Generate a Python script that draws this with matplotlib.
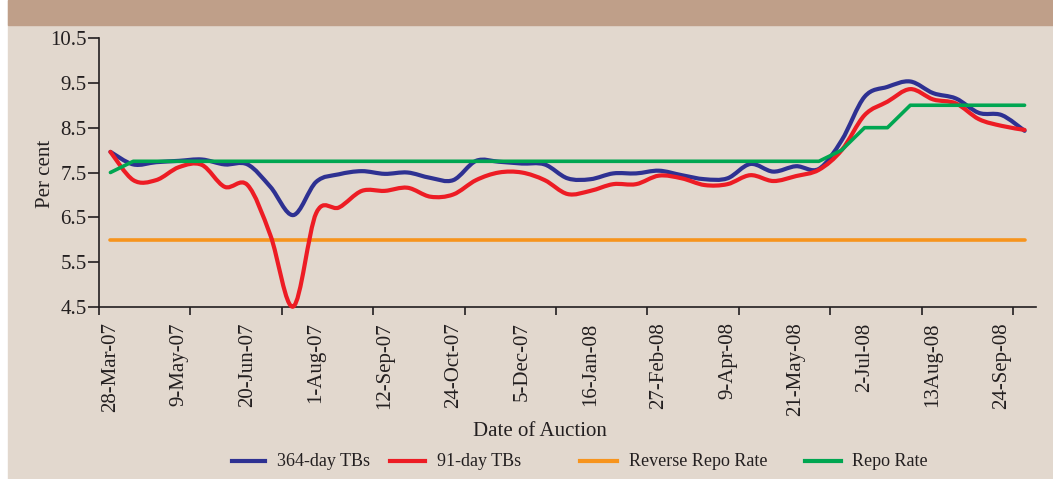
import numpy as np
import matplotlib.pyplot as plt
from matplotlib.path import Path
from matplotlib.patches import PathPatch, Rectangle
from matplotlib.lines import Line2D

plt.rcParams['font.family'] = ['Liberation Serif', 'DejaVu Serif']

# fortnightly auctions, 28-Mar-07 .. 8-Oct-08
auction_labels = ['28-Mar-07', '9-May-07', '20-Jun-07', '1-Aug-07', '12-Sep-07',
                  '24-Oct-07', '5-Dec-07', '16-Jan-08', '27-Feb-08', '9-Apr-08',
                  '21-May-08', '2-Jul-08', '13Aug-08', '24-Sep-08']

tb364 = [7.96, 7.68, 7.73, 7.76, 7.79, 7.68, 7.68, 7.18, 6.55, 7.29,
         7.46, 7.53, 7.47, 7.50, 7.38, 7.33, 7.76, 7.74, 7.70, 7.68,
         7.37, 7.35, 7.48, 7.48, 7.54, 7.44, 7.35, 7.37, 7.69, 7.52,
         7.64, 7.58, 8.22, 9.19, 9.41, 9.53, 9.27, 9.15, 8.83, 8.78, 8.43]

tb91 = [7.96, 7.33, 7.33, 7.62, 7.67, 7.18, 7.22, 6.10, 4.51, 6.59,
        6.72, 7.09, 7.09, 7.16, 6.96, 7.01, 7.33, 7.50, 7.50, 7.33,
        7.02, 7.09, 7.24, 7.24, 7.43, 7.37, 7.22, 7.24, 7.44, 7.31,
        7.42, 7.56, 8.00, 8.78, 9.08, 9.36, 9.13, 9.04, 8.69, 8.54, 8.45]

repo = [7.50, 7.75, 7.75, 7.75, 7.75, 7.75, 7.75, 7.75, 7.75, 7.75,
        7.75, 7.75, 7.75, 7.75, 7.75, 7.75, 7.75, 7.75, 7.75, 7.75,
        7.75, 7.75, 7.75, 7.75, 7.75, 7.75, 7.75, 7.75, 7.75, 7.75,
        7.75, 7.75, 8.00, 8.50, 8.50, 9.00, 9.00, 9.00, 9.00, 9.00, 9.00]

rev_repo = [6.0, 6.0, 6.0, 6.0, 6.0, 6.0, 6.0, 6.0, 6.0, 6.0,
            6.0, 6.0, 6.0, 6.0, 6.0, 6.0, 6.0, 6.0, 6.0, 6.0,
            6.0, 6.0, 6.0, 6.0, 6.0, 6.0, 6.0, 6.0, 6.0, 6.0,
            6.0, 6.0, 6.0, 6.0, 6.0, 6.0, 6.0, 6.0, 6.0, 6.0, 6.0]

names = ['364-day TBs', '91-day TBs', 'Reverse Repo Rate', 'Repo Rate']

c364 = '#2e3192'
c91 = '#ed1c24'
crev = '#f7941d'
crepo = '#00a651'
txt = '#231f20'


def smooth_path(xs, ys):
    # bezier through the points, like a spreadsheet "smoothed line"
    pts = np.column_stack([xs, ys]).astype(float)
    n = len(pts)
    verts = [pts[0]]
    codes = [Path.MOVETO]
    for i in range(n - 1):
        p0 = pts[max(i - 1, 0)]
        p1 = pts[i]
        p2 = pts[i + 1]
        p3 = pts[min(i + 2, n - 1)]
        verts += [p1 + (p2 - p0) / 6, p2 - (p3 - p1) / 6, p2]
        codes += [Path.CURVE4] * 3
    return Path(verts, codes)


x = np.arange(len(tb364))

W, H = 1053, 479
fig = plt.figure(figsize=(W / 100, H / 100), dpi=100, facecolor='white')
fig.patches.append(Rectangle((8 / W, 0), 1, 1, transform=fig.transFigure,
                             color='#e2d8ce', zorder=-2))
fig.patches.append(Rectangle((8 / W, 1 - 25 / H), 1, 25 / H, transform=fig.transFigure,
                             color='#bf9f89', zorder=-1))

ax = fig.add_axes([99 / W, 1 - 307 / H, (1036 - 99) / W, (307 - 38) / H])
ax.set_facecolor('none')

ax.plot(x, rev_repo, color=crev, lw=2.6, zorder=2, solid_capstyle='round')
ax.add_patch(PathPatch(smooth_path(x, tb364), fill=False, edgecolor=c364, lw=3.0,
                       zorder=3, capstyle='round', joinstyle='round'))
ax.add_patch(PathPatch(smooth_path(x, tb91), fill=False, edgecolor=c91, lw=3.0,
                       zorder=4, capstyle='round', joinstyle='round', clip_on=False))
ax.plot(x, repo, color=crepo, lw=2.6, zorder=5, solid_capstyle='round')

ax.set_xlim(-0.5, 40.5)
ax.set_ylim(4.5, 10.5)

for s in ['top', 'right']:
    ax.spines[s].set_visible(False)
for s in ['left', 'bottom']:
    ax.spines[s].set_color(txt)
    ax.spines[s].set_linewidth(1.2)

yt = np.arange(4.5, 10.6, 1.0)
ax.set_yticks(yt, ['%.1f' % v for v in yt])
ax.tick_params(axis='y', length=8, width=1.2, pad=1, labelsize=15,
               colors=txt)

ax.set_xticks(np.arange(-0.5, 40, 4), [])
ax.set_xticks(x[::3], auction_labels, minor=True)
ax.tick_params(axis='x', which='major', length=6, width=1.2, color=txt)
ax.tick_params(axis='x', which='minor', length=0, pad=11, labelsize=15,
               labelrotation=90, labelcolor=txt)

fig.text(45 / W, 1 - 174 / H, 'Per cent', rotation=90, ha='center', va='center',
         fontsize=15, color=txt)
fig.text(540 / W, 1 - 432 / H, 'Date of Auction', ha='center', va='center',
         fontsize=15, color=txt)

# legend row, spaced like the original
leg_y = 1 - 461 / H
leg_lines = [(232, 265), (390, 425), (580, 617), (805, 841)]
leg_text_x = [277, 437, 629, 852]
for (x0, x1), tx, name, col in zip(leg_lines, leg_text_x, names,
                                   [c364, c91, crev, crepo]):
    fig.add_artist(Line2D([x0 / W, x1 / W], [leg_y, leg_y], color=col, lw=3,
                          transform=fig.transFigure))
    fig.text(tx / W, leg_y, name, ha='left', va='center', fontsize=13, color=txt)

fig.savefig('out.png', dpi=100, facecolor=fig.get_facecolor())
